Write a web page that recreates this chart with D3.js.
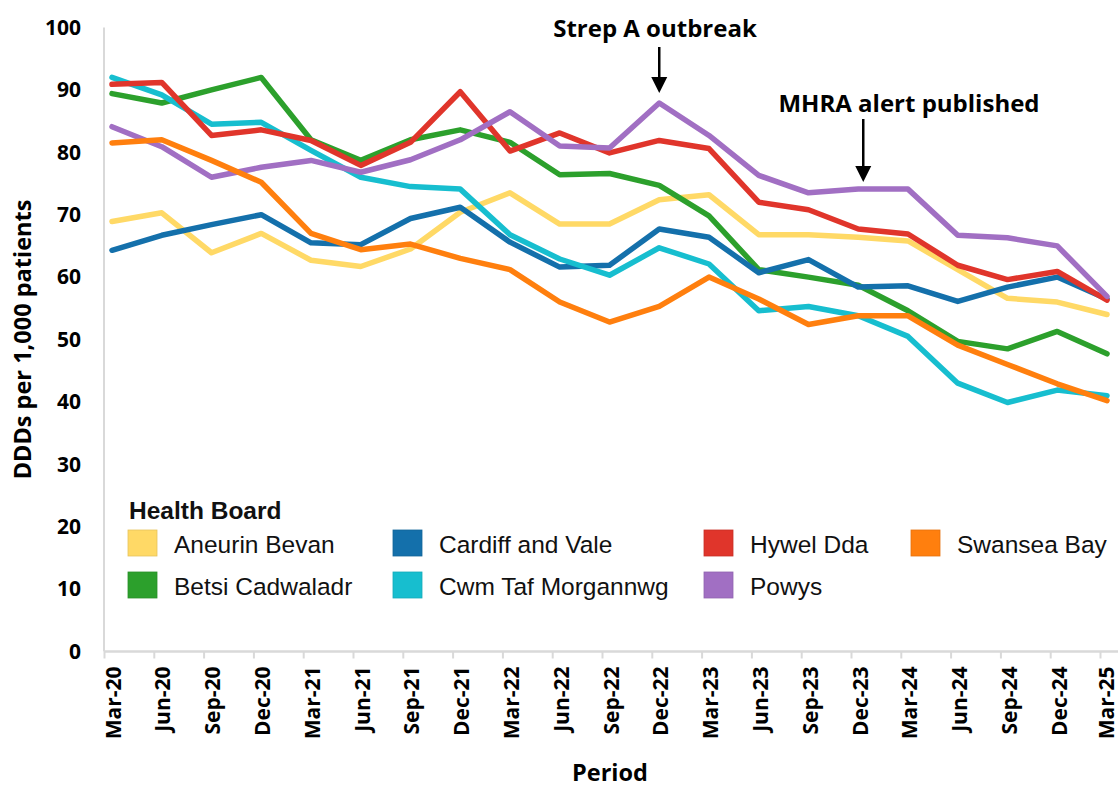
<!DOCTYPE html>
<head>
    <meta charset="utf-8">
    <style>
        body { margin: 0; background: #fff; }
        .tick-label { font-family: "Open Sans", sans-serif; font-weight: bold; font-size: 21px; fill: #000; }
        .axis-title { font-family: "Open Sans", sans-serif; font-weight: bold; font-size: 23.5px; fill: #000; }
        .note { font-family: "Open Sans", sans-serif; font-weight: bold; font-size: 24px; fill: #000; }
        .legend-text { font-family: "Liberation Sans", Arial, sans-serif; font-size: 24.5px; fill: #111; }
        .legend-title { font-family: "Liberation Sans", Arial, sans-serif; font-weight: bold; font-size: 24.5px; fill: #111; }
    </style>
</head>
<body>
    <script src="https://d3js.org/d3.v7.min.js"></script>
    <script>

        // periods on the x axis
        var periods = ["Mar-20", "Jun-20", "Sep-20", "Dec-20", "Mar-21", "Jun-21", "Sep-21",
            "Dec-21", "Mar-22", "Jun-22", "Sep-22", "Dec-22", "Mar-23", "Jun-23", "Sep-23",
            "Dec-23", "Mar-24", "Jun-24", "Sep-24", "Dec-24", "Mar-25"];

        // DDDs per 1,000 patients, one array per health board
        var aneurinBevan   = [68.9, 70.3, 63.9, 67.0, 62.7, 61.7, 64.5, 70.4, 73.5, 68.5, 68.5, 72.4, 73.2, 66.8, 66.8, 66.4, 65.8, 61.2, 56.6, 56.0, 54.0];
        var betsiCadwaladr = [89.4, 87.9, 90.0, 92.0, 82.0, 78.7, 82.0, 83.6, 81.6, 76.4, 76.6, 74.7, 69.8, 61.2, 60.0, 58.7, 54.6, 49.7, 48.5, 51.3, 47.7];
        var cardiffVale    = [64.3, 66.7, 68.4, 70.0, 65.5, 65.2, 69.4, 71.2, 65.6, 61.6, 61.9, 67.7, 66.4, 60.7, 62.8, 58.4, 58.6, 56.1, 58.4, 60.0, 56.5];
        var cwmTaf         = [92.0, 89.2, 84.5, 84.8, 80.3, 76.0, 74.5, 74.1, 66.8, 62.9, 60.3, 64.7, 62.1, 54.6, 55.3, 53.8, 50.5, 43.0, 39.9, 41.9, 41.0];
        var hywelDda       = [90.9, 91.2, 82.7, 83.6, 81.9, 77.9, 81.6, 89.7, 80.2, 83.1, 79.9, 81.9, 80.6, 72.0, 70.8, 67.7, 66.9, 61.9, 59.6, 60.9, 56.3];
        var powys          = [84.1, 80.9, 76.0, 77.6, 78.7, 76.8, 78.8, 82.0, 86.5, 81.0, 80.7, 87.9, 82.7, 76.3, 73.5, 74.1, 74.1, 66.7, 66.3, 65.0, 56.9];
        var swanseaBay     = [81.5, 82.0, 78.7, 75.2, 67.0, 64.4, 65.3, 63.0, 61.2, 56.0, 52.8, 55.3, 60.0, 56.5, 52.4, 53.8, 53.8, 49.1, 46.0, 42.9, 40.2];

        var boardNames = ["Aneurin Bevan", "Betsi Cadwaladr", "Cardiff and Vale", "Cwm Taf Morgannwg",
            "Hywel Dda", "Powys", "Swansea Bay"];
        var boardColors = ["#ffd966", "#2ca02c", "#1470ab", "#17becf", "#e0352b", "#a16fc3", "#ff7f0e"];
        var boardValues = [aneurinBevan, betsiCadwaladr, cardiffVale, cwmTaf, hywelDda, powys, swanseaBay];

        var yTicks = [0, 10, 20, 30, 40, 50, 60, 70, 80, 90, 100];

        // annotations
        var notes = [
            {text: "Strep A outbreak", period: "Dec-22", textX: 655, textY: 37, y1: 47, y2: 93, dx: 0},
            {text: "MHRA alert published", period: "Dec-23", textX: 909, textY: 112, y1: 119, y2: 182, dx: 5}
        ];

        var width = 1120, height = 788;

        var svg = d3.select("body").append("svg")
            .attr("width", width)
            .attr("height", height);

        // scales
        var x = d3.scalePoint().domain(periods).range([112, 1107]);
        var xTick = d3.scalePoint().domain(periods).range([104, 1100]);
        var y = d3.scaleLinear().domain([0, 100]).range([651.5, 27.5]);

        // y axis line + labels
        svg.append("line")
            .attr("x1", 104).attr("x2", 104)
            .attr("y1", y(100)).attr("y2", y(0))
            .attr("stroke", "#d9d9d9").attr("stroke-width", 2);

        svg.append("g")
            .selectAll("text")
            .data(yTicks)
            .enter().append("text")
            .attr("class", "tick-label")
            .attr("x", 81)
            .attr("y", function(d) { return y(d); })
            .attr("dy", "0.35em")
            .attr("text-anchor", "end")
            .text(function(d) { return d; });

        // x axis
        var xAxis = svg.append("g")
            .attr("transform", "translate(0," + y(0) + ")")
            .call(d3.axisBottom(xTick).tickSize(7).tickSizeOuter(0));
        xAxis.select(".domain").remove();
        xAxis.append("line")
            .attr("x1", 104).attr("x2", 1118)
            .attr("stroke", "#d9d9d9").attr("stroke-width", 2.5);
        xAxis.selectAll(".tick line")
            .attr("stroke", "#d9d9d9").attr("stroke-width", 2);
        // last label nudged left so it stays inside the picture
        xAxis.selectAll(".tick text")
            .attr("class", "tick-label")
            .attr("transform", function(d, i) {
                var off = i === periods.length - 1 ? 5.5 : 8.5;
                return "translate(" + off + ",15) rotate(-90)";
            })
            .attr("x", 0).attr("y", 0)
            .attr("dy", "0.36em")
            .attr("text-anchor", "end");

        // axis titles
        svg.append("text")
            .attr("class", "axis-title")
            .attr("transform", "translate(31," + ((y(0) + y(100)) / 2) + ") rotate(-90)")
            .attr("text-anchor", "middle")
            .text("DDDs per 1,000 patients");

        svg.append("text")
            .attr("class", "axis-title")
            .attr("x", 610)
            .attr("y", 781)
            .attr("text-anchor", "middle")
            .text("Period");

        // lines
        var line = d3.line()
            .x(function(d, i) { return x(periods[i]); })
            .y(function(d) { return y(d); });

        svg.append("g")
            .selectAll("path")
            .data(boardValues)
            .enter().append("path")
            .attr("d", line)
            .attr("fill", "none")
            .attr("stroke", function(d, i) { return boardColors[i]; })
            .attr("stroke-width", 5.5)
            .attr("stroke-linecap", "round")
            .attr("stroke-linejoin", "round");

        // annotations with arrows
        notes.forEach(function(n) {
            var ax = x(n.period) + n.dx;
            svg.append("text")
                .attr("class", "note")
                .attr("x", n.textX)
                .attr("y", n.textY)
                .attr("text-anchor", "middle")
                .text(n.text);
            svg.append("line")
                .attr("x1", ax).attr("x2", ax)
                .attr("y1", n.y1).attr("y2", n.y2 - 14)
                .attr("stroke", "#000").attr("stroke-width", 2.5);
            svg.append("path")
                .attr("d", "M" + (ax - 8) + "," + (n.y2 - 16) + "L" + (ax + 8) + "," + (n.y2 - 16) + "L" + ax + "," + n.y2 + "Z")
                .attr("fill", "#000");
        });

        // legend
        var legend = svg.append("g");
        legend.append("text")
            .attr("class", "legend-title")
            .attr("x", 129)
            .attr("y", 519)
            .text("Health Board");

        var legendCols = [128, 393, 704, 911];
        var legendRows = [530, 572];
        // column-wise placement: 2 per column
        var items = legend.selectAll("g.item")
            .data(boardNames)
            .enter().append("g")
            .attr("class", "item")
            .attr("transform", function(d, i) {
                return "translate(" + legendCols[Math.floor(i / 2)] + "," + legendRows[i % 2] + ")";
            });
        items.append("rect")
            .attr("width", 29).attr("height", 26)
            .attr("fill", function(d, i) { return boardColors[i]; })
            .attr("stroke", function(d, i) { return d3.color(boardColors[i]).darker(0.3); })
            .attr("stroke-width", 0.8);
        items.append("text")
            .attr("class", "legend-text")
            .attr("x", 46)
            .attr("y", 22.5)
            .text(function(d) { return d; });

    </script>
</body>
